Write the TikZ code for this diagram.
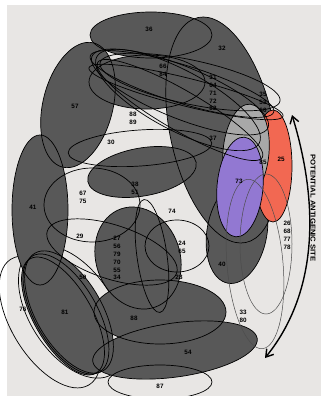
\documentclass[tikz,border=0pt]{standalone}
\usepackage{fontspec}
\setmainfont{Liberation Sans}
\newfontfamily\widefont[FakeStretch=1.1]{Liberation Sans}
\usetikzlibrary{arrows.meta}
\definecolor{bgc}{RGB}{232,230,228}
\definecolor{dk}{RGB}{88,88,88}
\definecolor{lgr}{RGB}{168,168,168}
\definecolor{rd}{RGB}{242,104,82}
\definecolor{pu}{RGB}{146,120,210}
\newcommand\Ell[6]{\path[#1,rotate around={#6:(#2,#3)}] (#2,#3) ellipse [x radius=#4, y radius=#5];}
\tikzset{
  lbl/.style={font=\bfseries\fontsize{6.3}{7.9}\selectfont, align=center, inner sep=0pt},
  dfill/.style={fill=dk},
  dline/.style={draw=black, line width=0.7pt},
  ol/.style={draw=black, line width=0.7pt},
  thinol/.style={draw=black!70, line width=0.5pt},
}
\begin{document}
\begin{tikzpicture}[x=1pt,y=-1pt]
\useasboundingbox (0,0) rectangle (321,396);
\fill[white] (0,0) rectangle (321,396);
\fill[bgc] (7,5) rectangle (321,396);
% outlines lying under the dark areas
\Ell{ol}{50}{322}{74}{38}{-58}
\Ell{ol}{72}{312}{74}{42}{-57}
% dark fills
\Ell{dfill}{222}{130}{52}{115}{12}
\Ell{dfill}{151}{35}{61}{23}{0}
\Ell{dfill}{147}{82}{58}{27}{0}
\Ell{dfill}{78}{105}{35}{64}{-14}
\Ell{dfill}{40}{210}{28}{75}{0}
\Ell{dfill}{142}{172}{55}{24}{10}
\Ell{dfill}{237}{232}{30}{52}{-10}
\Ell{dfill}{175}{350}{83}{27}{8}
\Ell{dfill}{160}{312}{66}{32}{0}
\Ell{dfill}{138}{258}{42}{52}{19}
\Ell{dfill}{69}{312}{68}{33}{-60}
\Ell{dfill}{66}{314}{67}{31}{-60}
\Ell{dfill}{63}{316}{66}{29}{-60}
% dark outlines
\Ell{dline}{222}{130}{52}{115}{12}
\Ell{dline}{151}{35}{61}{23}{0}
\Ell{dline}{147}{82}{58}{27}{0}
\Ell{dline}{78}{105}{35}{64}{-14}
\Ell{dline}{40}{210}{28}{75}{0}
\Ell{dline}{142}{172}{55}{24}{10}
\Ell{dline}{237}{232}{30}{52}{-10}
\Ell{dline}{175}{350}{83}{27}{8}
\Ell{dline}{160}{312}{66}{32}{0}
\Ell{dline}{138}{258}{42}{52}{19}
\Ell{dline}{69}{312}{68}{33}{-60}
\Ell{dline}{66}{314}{67}{31}{-60}
\Ell{dline}{63}{316}{66}{29}{-60}
% coloured
\Ell{fill=rd,dline}{273}{166}{19}{56}{0}
\Ell{fill=lgr,dline}{246}{152}{23}{48}{-5}
\Ell{fill=pu,dline}{240}{187}{23}{50}{-5}
% outline-only ellipses
\Ell{ol}{182}{84}{96}{19}{-17}
\Ell{ol}{180}{92}{95}{26}{-22}
\Ell{ol}{186}{92}{100}{14}{-14}
\Ell{ol}{178}{100}{92}{30}{-28}
\Ell{ol}{190}{82}{92}{22}{-12}
\Ell{ol}{180}{110}{95}{20}{-30}
\Ell{ol}{140}{148}{72}{18}{4}
\Ell{ol}{92}{205}{48}{37}{0}
\Ell{ol}{112}{252}{68}{27}{-18}
\Ell{ol}{177}{246}{32}{26}{0}
\Ell{ol}{152}{256}{15}{57}{8}
\Ell{ol}{160}{382}{52}{17}{0}
\Ell{thinol}{266}{244}{26}{70}{0}
\Ell{thinol}{255}{264}{28}{85}{5}
% labels
\node[lbl] (l36) at (149,29) {36};
\node[lbl] (l32) at (222,48) {32};
\node[lbl] (l66) at (163,70) {66\\84};
\node[lbl] (l31) at (213,93) {31\\64\\71\\72\\82};
\node[lbl] (l35) at (263,102) {35\\53\\60};
\node[lbl] (l37) at (213,138) {37};
\node[lbl] (l57) at (75,106) {57};
\node[lbl] (l88) at (133,118) {88\\89};
\node[lbl] (l30) at (111,142) {30};
\node[lbl] (l38) at (135,188) {38\\51};
\node[lbl] (l67) at (83,197) {67\\75};
\node[lbl] (l41) at (33,207) {41};
\node[lbl] (l29) at (80,236) {29};
\node[lbl] (l74) at (172,211) {74};
\node[lbl] (l24) at (182,247) {24\\65};
\node[lbl] (l27) at (117,258) {27\\56\\79\\70\\55\\34};
\node[lbl] (l28) at (179,277) {28};
\node[lbl] (l40) at (222,264) {40};
\node[lbl] (l50) at (83,277) {50};
\node[lbl] (l81) at (65,312) {81};
\node[lbl] (l76) at (23,309) {76};
\node[lbl] (l86) at (134,318) {88};
\node[lbl] (l54) at (188,352) {54};
\node[lbl] (l87) at (160,386) {87};
\node[lbl] (l33) at (243,316) {33\\80};
\node[lbl] (l26) at (287,235) {26\\68\\77\\78};
\node[lbl] (l25) at (281,159) {25};
\node[lbl] (l85) at (263,162) {85};
\node[lbl] (l73) at (239,181) {73};
% arrow
\coordinate (atop) at (292,115);
\coordinate (abot) at (265,358);
\draw[line width=1.4pt,{Straight Barb[length=7pt,width=9pt]}-{Straight Barb[length=7pt,width=9pt]}] (atop) .. controls (318,200) and (320,290) .. (abot);
\node[rotate=-90,inner sep=0pt,font=\widefont\bfseries\fontsize{7}{8}\selectfont] (pas) at (313,208) {POTENTIAL ANTIGENIC SITE};
\end{tikzpicture}
\end{document}
